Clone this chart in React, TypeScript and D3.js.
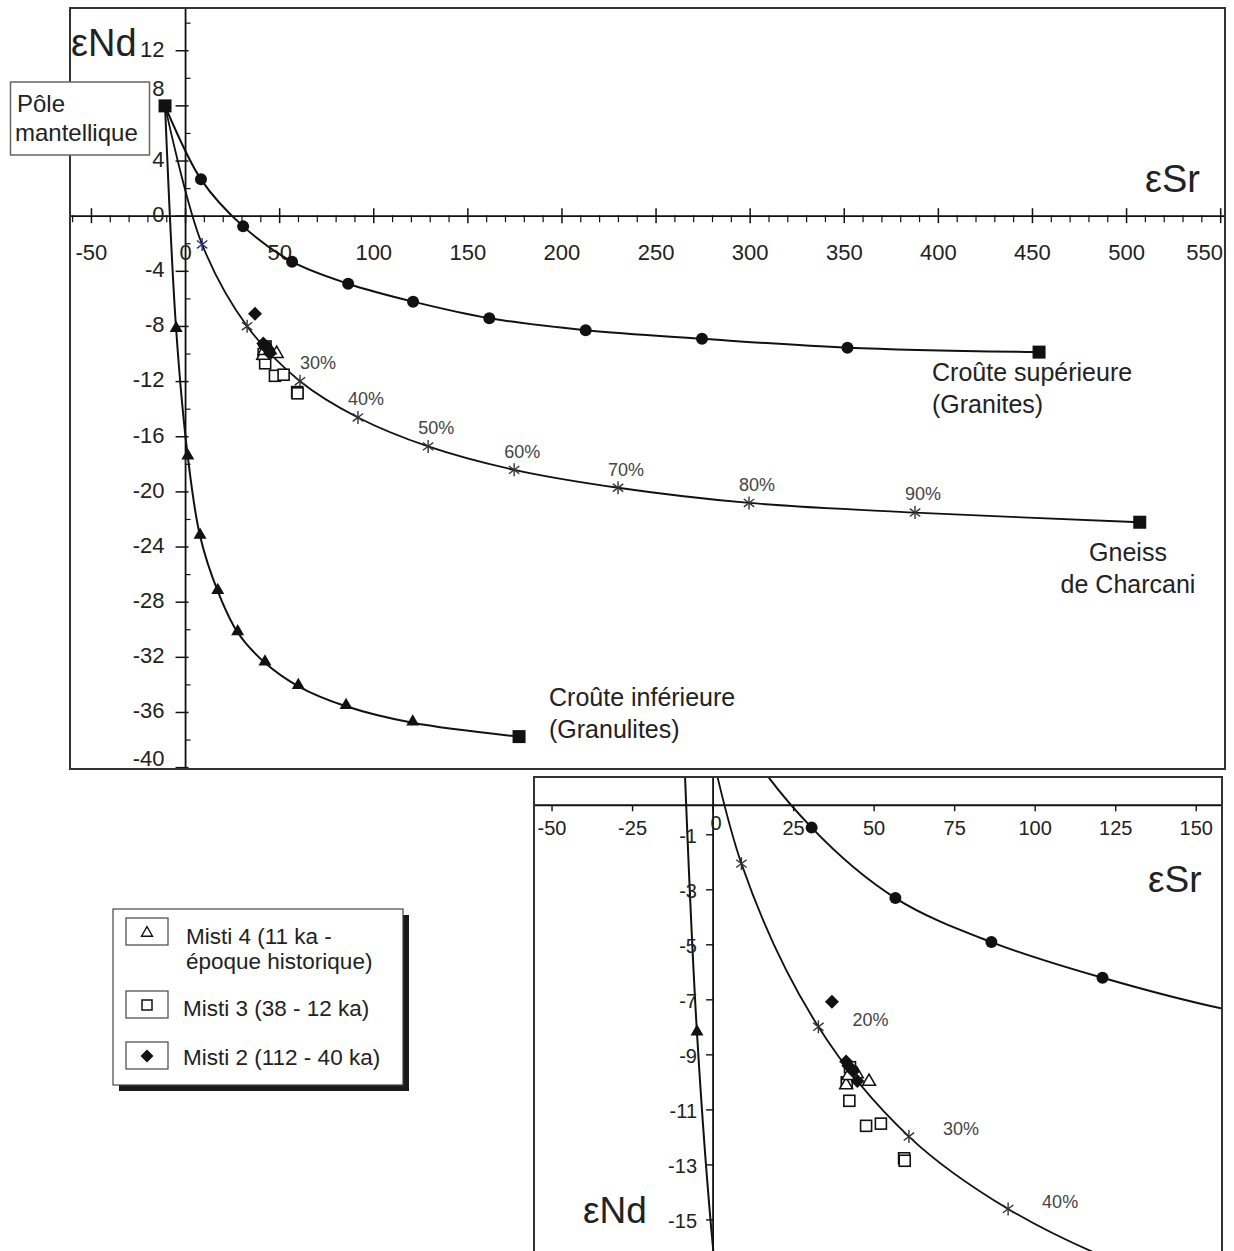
import React from 'react';
import * as d3 from 'd3';

// ---------- data ----------
const mantlePole: [number, number] = [-10.9, 8];

const upperCrustX = [8.2, 30.6, 56.6, 86.4, 120.9, 161.4, 212.6, 274.4, 351.7];
const upperCrustY = [2.67, -0.74, -3.3, -4.9, -6.2, -7.4, -8.27, -8.89, -9.54];
const upperCrustEnd: [number, number] = [453.5, -9.86];

const gneissX = [8.8, 32.7, 60.8, 91.6, 128.9, 174.6, 229.8, 299.4, 387.6];
const gneissY = [-2.05, -7.98, -11.97, -14.6, -16.7, -18.4, -19.7, -20.8, -21.5];
const gneissPct = ['10%', '20%', '30%', '40%', '50%', '60%', '70%', '80%', '90%'];
const gneissEnd: [number, number] = [507, -22.2];

const lowerCrustX = [-5.0, 1.2, 7.7, 17.1, 27.7, 42.2, 59.9, 85.3, 120.7];
const lowerCrustY = [-8.2, -17.45, -23.2, -27.2, -30.2, -32.4, -34.1, -35.55, -36.75];
const lowerCrustEnd: [number, number] = [177.2, -37.75];

const misti4X = [41.3, 48.4, 44.6, 42.0];
const misti4Y = [-10.1, -9.97, -9.7, -9.76];
const misti3X = [42.5, 41.5, 42.3, 47.5, 52.1, 59.3, 59.5];
const misti3Y = [-9.45, -10.0, -10.67, -11.58, -11.5, -12.76, -12.85];
const misti2X = [36.9, 41.3, 42.0, 43.5, 44.8];
const misti2Y = [-7.07, -9.24, -9.4, -9.6, -9.95];

const mainXTicks = [-50, 0, 50, 100, 150, 200, 250, 300, 350, 400, 450, 500, 550];
const mainYTicks = [12, 8, 4, 0, -4, -8, -12, -16, -20, -24, -28, -32, -36, -40];
const insetXTicks = [-50, -25, 0, 25, 50, 75, 100, 125, 150];
const insetYTicks = [-1, -3, -5, -7, -9, -11, -13, -15];
const mainPctShown = ['30%', '40%', '50%', '60%', '70%', '80%', '90%'];
const insetPctShown = ['20%', '30%', '40%'];

const legendItems = [
  { kind: 'tri', lines: ['Misti 4 (11 ka -', 'époque historique)'] },
  { kind: 'sq', lines: ['Misti 3 (38 - 12 ka)'] },
  { kind: 'dia', lines: ['Misti 2 (112 - 40 ka)'] },
];

// ---------- helpers ----------
const FONT = 'Liberation Sans, Arial, Helvetica, sans-serif';
const zip = (xs: number[], ys: number[]) => xs.map((x, i) => [x, ys[i]] as [number, number]);
const upperPts = [mantlePole, ...zip(upperCrustX, upperCrustY), upperCrustEnd];
const gneissPts = [mantlePole, ...zip(gneissX, gneissY), gneissEnd];
const lowerPts = [mantlePole, ...zip(lowerCrustX, lowerCrustY), lowerCrustEnd];

const triPath = (cx: number, cy: number, s: number) =>
  `M${cx},${cy - s * 0.577}L${cx - s / 2},${cy + s * 0.289}L${cx + s / 2},${cy + s * 0.289}Z`;
const diaPath = (cx: number, cy: number, r: number) =>
  `M${cx},${cy - r}L${cx + r},${cy}L${cx},${cy + r}L${cx - r},${cy}Z`;

function Asterisk({ cx, cy, r, color }: { cx: number; cy: number; r: number; color: string }) {
  const a = r * 0.8, b = r * 0.6;
  return (
    <g stroke={color} strokeWidth={1.4}>
      <line x1={cx} y1={cy - r} x2={cx} y2={cy + r} />
      <line x1={cx - a} y1={cy - b} x2={cx + a} y2={cy + b} />
      <line x1={cx - a} y1={cy + b} x2={cx + a} y2={cy - b} />
    </g>
  );
}

type Sc = d3.ScaleLinear<number, number>;

function Samples({ x, y }: { x: Sc; y: Sc }) {
  return (
    <g>
      {zip(misti3X, misti3Y).map(([a, b], i) => (
        <rect key={'s' + i} x={x(a) - 5.5} y={y(b) - 5.5} width={11} height={11} fill="white" stroke="#111" strokeWidth={1.6} />
      ))}
      {zip(misti4X, misti4Y).map(([a, b], i) => (
        <path key={'t' + i} d={triPath(x(a), y(b), 13)} fill="white" stroke="#111" strokeWidth={1.5} />
      ))}
      {zip(misti2X, misti2Y).map(([a, b], i) => (
        <path key={'d' + i} d={diaPath(x(a), y(b), 7)} fill="#111" />
      ))}
    </g>
  );
}

function Curves({ x, y, pctShown, pctDx, pctDy, firstColor }: { x: Sc; y: Sc; pctShown: string[]; pctDx: number; pctDy: number; firstColor: string }) {
  const line = d3.line<[number, number]>().x(d => x(d[0])).y(d => y(d[1])).curve(d3.curveCatmullRom.alpha(0.5));
  return (
    <g>
      <path d={line(upperPts) || ''} fill="none" stroke="#111" strokeWidth={2} />
      <path d={line(gneissPts) || ''} fill="none" stroke="#111" strokeWidth={1.8} />
      <path d={line(lowerPts) || ''} fill="none" stroke="#111" strokeWidth={2} />
      {zip(upperCrustX, upperCrustY).map(([a, b], i) => (
        <circle key={'c' + i} cx={x(a)} cy={y(b)} r={6} fill="#111" />
      ))}
      {zip(lowerCrustX, lowerCrustY).map(([a, b], i) => (
        <path key={'lt' + i} d={triPath(x(a), y(b) - 1, 13)} fill="#111" />
      ))}
      {zip(gneissX, gneissY).map(([a, b], i) => (
        <Asterisk key={'g' + i} cx={x(a)} cy={y(b)} r={6.5} color={i === 0 ? firstColor : '#333'} />
      ))}
      {[upperCrustEnd, gneissEnd, lowerCrustEnd, mantlePole].map((p, i) => (
        <rect key={'e' + i} x={x(p[0]) - 6.5} y={y(p[1]) - 6.5} width={13} height={13} fill="#111" />
      ))}
      {gneissPct.map((t, i) =>
        pctShown.includes(t) ? (
          <text key={'p' + i} x={x(gneissX[i]) + pctDx + (pctDx < 20 && t === '30%' ? 10 : 0)} y={y(gneissY[i]) + pctDy}
            fontSize={18} fill="#444" textAnchor="middle" dominantBaseline="middle" fontFamily={FONT}>{t}</text>
        ) : null
      )}
    </g>
  );
}

export default function App() {
  const xM = d3.scaleLinear().domain([-61.4, 552.3]).range([70, 1225]);
  const yM = d3.scaleLinear().domain([15.1, -40.1]).range([8, 769]);
  const xI = d3.scaleLinear().domain([-55.6, 158]).range([534, 1222]);
  const yI = d3.scaleLinear().domain([1.1, -16.13]).range([777, 1251]);

  const mx0 = xM(0), my0 = yM(0);
  const ix0 = xI(0), iy0 = yI(0);
  const xMinor = d3.range(-60, 551, 10).filter(v => v % 50 !== 0);
  const yMinor = d3.range(-40, 15, 2).filter(v => v % 4 !== 0);

  return (
    <svg width={1234} height={1251} style={{ position: 'absolute', left: 0, top: 0, background: 'white' }} fontFamily={FONT}>
      <defs>
        <clipPath id="mainClip"><rect x={70} y={8} width={1155} height={761} /></clipPath>
        <clipPath id="insetClip"><rect x={534} y={777} width={688} height={480} /></clipPath>
      </defs>
      <rect x={0} y={0} width={1234} height={1251} fill="white" />

      {/* ===== MAIN CHART ===== */}
      <g>
        <line x1={70} x2={1225} y1={my0} y2={my0} stroke="#111" strokeWidth={1.8} />
        <line x1={mx0} x2={mx0} y1={8} y2={769} stroke="#111" strokeWidth={1.8} />
        {mainXTicks.map(v => (
          <line key={'xt' + v} x1={xM(v)} x2={xM(v)} y1={my0 - 8} y2={my0 + 7} stroke="#111" strokeWidth={1.5} />
        ))}
        {xMinor.map(v => (
          <line key={'xm' + v} x1={xM(v)} x2={xM(v)} y1={my0 - 1} y2={my0 + 6} stroke="#111" strokeWidth={1.2} />
        ))}
        {mainYTicks.map(v => (
          <line key={'yt' + v} x1={mx0 - 10} x2={mx0 + 3} y1={yM(v)} y2={yM(v)} stroke="#111" strokeWidth={1.5} />
        ))}
        {yMinor.map(v => (
          <line key={'ym' + v} x1={mx0} x2={mx0 + 5} y1={yM(v)} y2={yM(v)} stroke="#111" strokeWidth={1.2} />
        ))}
        {mainXTicks.map(v => (
          <text key={'xl' + v} x={v === 550 ? 1223 : xM(v)} y={my0 + 44} fontSize={22} fill="#222"
            textAnchor={v === 550 ? 'end' : 'middle'}>{v}</text>
        ))}
        {mainYTicks.map(v => (
          <text key={'yl' + v} x={mx0 - 21} y={v === 8 ? 90 : v === -40 ? 760 : yM(v)} fontSize={22} fill="#222"
            textAnchor="end" dominantBaseline="middle">{v}</text>
        ))}
        <g clipPath="url(#mainClip)">
          <Curves x={xM} y={yM} pctShown={mainPctShown} pctDx={8} pctDy={-17} firstColor="#2b2b7a" />
          <Samples x={xM} y={yM} />
        </g>
        <rect x={70} y={8} width={1155} height={761} fill="none" stroke="#333" strokeWidth={2} />
        <text x={71} y={56} fontSize={38} fill="#222">εNd</text>
        <text x={1145} y={192} fontSize={38} fill="#222">εSr</text>
        <text x={932} y={381} fontSize={25} fill="#222">Croûte supérieure</text>
        <text x={932} y={413} fontSize={25} fill="#222">(Granites)</text>
        <text x={1128} y={561} fontSize={25} fill="#222" textAnchor="middle">Gneiss</text>
        <text x={1128} y={593} fontSize={25} fill="#222" textAnchor="middle">de Charcani</text>
        <text x={549} y={706} fontSize={25} fill="#222">Croûte inférieure</text>
        <text x={549} y={738} fontSize={25} fill="#222">(Granulites)</text>
        <rect x={10.5} y={82} width={139} height={73} fill="white" stroke="#666" strokeWidth={1.5} />
        <text x={17} y={112} fontSize={24} fill="#222">Pôle</text>
        <text x={15} y={141} fontSize={24} fill="#222">mantellique</text>
      </g>

      {/* ===== INSET ===== */}
      <g>
        <rect x={534} y={777} width={688} height={490} fill="white" />
        <g clipPath="url(#insetClip)">
          <line x1={534} x2={1222} y1={iy0 - 2} y2={iy0 - 2} stroke="#111" strokeWidth={1.8} />
          <line x1={ix0} x2={ix0} y1={777} y2={1251} stroke="#111" strokeWidth={1.8} />
          {insetXTicks.map(v => (
            <line key={'ixt' + v} x1={xI(v)} x2={xI(v)} y1={iy0 - 2} y2={iy0 + 4} stroke="#111" strokeWidth={1.4} />
          ))}
          {insetYTicks.map(v => (
            <line key={'iyt' + v} x1={ix0 - 7} x2={ix0} y1={yI(v)} y2={yI(v)} stroke="#111" strokeWidth={1.4} />
          ))}
          <Curves x={xI} y={yI} pctShown={insetPctShown} pctDx={52} pctDy={-6} firstColor="#333" />
          <Samples x={xI} y={yI} />
          {insetXTicks.map(v => (
            <text key={'ixl' + v} x={v === 0 ? ix0 + 3 : xI(v)} y={v === 0 ? 830 : 835} fontSize={20} fill="#222" textAnchor="middle">{v}</text>
          ))}
          {insetYTicks.map(v => (
            <text key={'iyl' + v} x={697} y={yI(v) + 3} fontSize={20} fill="#222" textAnchor="end" dominantBaseline="middle">{v}</text>
          ))}
          <text x={1148} y={892} fontSize={37} fill="#222">εSr</text>
          <text x={583} y={1223} fontSize={37} fill="#222">εNd</text>
        </g>
        <path d="M534,1260V777H1222V1260" fill="none" stroke="#333" strokeWidth={2} />
      </g>

      {/* ===== LEGEND ===== */}
      <g>
        <rect x={119} y={915} width={290} height={176} fill="#1a1a1a" />
        <rect x={113} y={909} width={290} height={176} fill="white" stroke="#444" strokeWidth={1.2} />
        {legendItems.map((it, i) => {
          const by = [918, 991, 1042][i];
          const ty = [944, 1016, 1065][i];
          const cx = 147, cy = by + 14;
          return (
            <g key={'lg' + i}>
              <rect x={126} y={by} width={42} height={27} fill="white" stroke="#444" strokeWidth={1.2} />
              {it.kind === 'tri' && <path d={triPath(cx, cy + 1, 11)} fill="white" stroke="#111" strokeWidth={1.4} />}
              {it.kind === 'sq' && <rect x={cx - 5} y={cy - 5} width={10} height={10} fill="white" stroke="#111" strokeWidth={1.5} />}
              {it.kind === 'dia' && <path d={diaPath(cx, cy, 6.5)} fill="#111" />}
              {it.lines.map((l, j) => (
                <text key={j} x={i === 0 ? 186 : 183} y={ty + j * 25} fontSize={22.5} fill="#222">{l}</text>
              ))}
            </g>
          );
        })}
      </g>
    </svg>
  );
}
